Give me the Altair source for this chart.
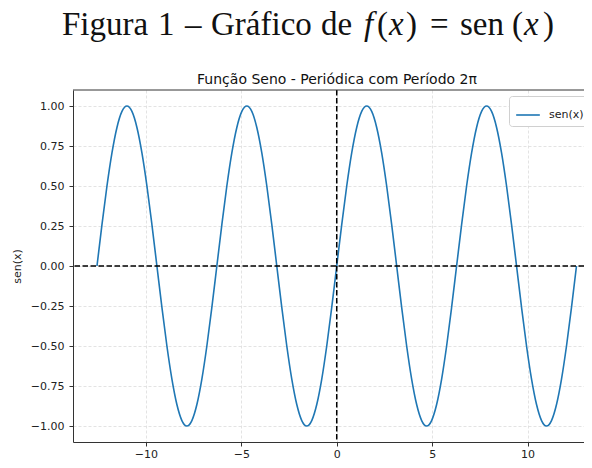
import altair as alt
import pandas as pd

# ---- data ----
x_vals = [
    -12.566, -12.305, -12.043, -11.781, -11.519, -11.257, -10.996, -10.734,
    -10.472, -10.210, -9.948, -9.687, -9.425, -9.163, -8.901, -8.639,
    -8.378, -8.116, -7.854, -7.592, -7.330, -7.069, -6.807, -6.545,
    -6.283, -6.021, -5.760, -5.498, -5.236, -4.974, -4.712, -4.451,
    -4.189, -3.927, -3.665, -3.403, -3.142, -2.880, -2.618, -2.356,
    -2.094, -1.833, -1.571, -1.309, -1.047, -0.785, -0.524, -0.262,
    0.0,
    0.262, 0.524, 0.785, 1.047, 1.309, 1.571, 1.833, 2.094,
    2.356, 2.618, 2.880, 3.142, 3.403, 3.665, 3.927, 4.189,
    4.451, 4.712, 4.974, 5.236, 5.498, 5.760, 6.021, 6.283,
    6.545, 6.807, 7.069, 7.330, 7.592, 7.854, 8.116, 8.378,
    8.639, 8.901, 9.163, 9.425, 9.687, 9.948, 10.210, 10.472,
    10.734, 10.996, 11.257, 11.519, 11.781, 12.043, 12.305, 12.566,
]
sen_vals = [
    0.0, 0.259, 0.5, 0.707, 0.866, 0.966, 1.0, 0.966, 0.866, 0.707, 0.5, 0.259,
    0.0, -0.259, -0.5, -0.707, -0.866, -0.966, -1.0, -0.966, -0.866, -0.707, -0.5, -0.259,
    0.0, 0.259, 0.5, 0.707, 0.866, 0.966, 1.0, 0.966, 0.866, 0.707, 0.5, 0.259,
    0.0, -0.259, -0.5, -0.707, -0.866, -0.966, -1.0, -0.966, -0.866, -0.707, -0.5, -0.259,
    0.0, 0.259, 0.5, 0.707, 0.866, 0.966, 1.0, 0.966, 0.866, 0.707, 0.5, 0.259,
    0.0, -0.259, -0.5, -0.707, -0.866, -0.966, -1.0, -0.966, -0.866, -0.707, -0.5, -0.259,
    0.0, 0.259, 0.5, 0.707, 0.866, 0.966, 1.0, 0.966, 0.866, 0.707, 0.5, 0.259,
    0.0, -0.259, -0.5, -0.707, -0.866, -0.966, -1.0, -0.966, -0.866, -0.707, -0.5, -0.259,
    0.0,
]
x_ticks = [-10, -5, 0, 5, 10]
y_ticks = [-1.0, -0.75, -0.5, -0.25, 0.0, 0.25, 0.5, 0.75, 1.0]
x_domain = [-13.823, 12.96]
y_domain = [-1.1, 1.1]
serie_nome = "sen(x)"
titulo_grafico = "Função Seno - Periódica com Período 2π"
titulo_textos = ["Figura", "1", "–", "Gráfico", "de", "f", "(", "x", ")", "=", "sen", "(", "x", ")"]
titulo_italico = [False, False, False, False, False, True, False, True, False, False, False, False, True, False]

# ---- layout of the figure caption pieces (page x of each piece, minus plot left 73) ----
titulo_px = [p - 73 for p in [62, 158, 185, 211, 321, 364, 377, 389, 406, 430, 460, 512, 524, 543]]

df = pd.DataFrame({"x": x_vals, "y": sen_vals, "serie": serie_nome})
one = pd.DataFrame({"v": [0]})
cap = pd.DataFrame({"t": titulo_textos, "px": titulo_px, "it": titulo_italico})

x_scale = alt.Scale(domain=x_domain, nice=False, zero=False)
y_scale = alt.Scale(domain=y_domain, nice=False, zero=False)

line = alt.Chart(df).mark_line(strokeWidth=1.6, interpolate="monotone", clip=True).encode(
    x=alt.X("x:Q", scale=x_scale,
            axis=alt.Axis(values=x_ticks, format="d", title="x", grid=True, labelPadding=2)),
    y=alt.Y("y:Q", scale=y_scale,
            axis=alt.Axis(values=y_ticks, format=".2f", title="sen(x)", grid=True,
                          labelPadding=5,
                          titleX=-56, titleY=176, titleAlign="center",
                          titleBaseline="middle", titleAngle=-90)),
    color=alt.Color("serie:N", scale=alt.Scale(range=["#1f77b4"]),
                    legend=alt.Legend(orient="none", legendX=436, legendY=6, title=None,
                                      symbolType="stroke", symbolStrokeWidth=1.6,
                                      symbolSize=560, labelFont="DejaVu Sans",
                                      labelFontSize=11, labelColor="#222",
                                      padding=6, strokeColor="#d0d0d0",
                                      fillColor="white", cornerRadius=3, labelOffset=8)),
)

hline = alt.Chart(one).mark_rule(color="black", strokeWidth=1.5, strokeDash=[5.5, 2.5]).encode(
    y=alt.datum(0))
vline = alt.Chart(one).mark_rule(color="black", strokeWidth=1.5, strokeDash=[5.5, 2.5]).encode(
    x=alt.datum(0))
top_border = alt.Chart(one).mark_rule(color="#333333", strokeWidth=1).encode(y=alt.value(0))

plot_title = alt.Chart(one).mark_text(
    text=titulo_grafico, font="DejaVu Sans", fontSize=14, color="#111",
    align="center", baseline="alphabetic").encode(x=alt.value(264), y=alt.value(-6))

cap_normal = alt.Chart(cap).transform_filter("!datum.it").mark_text(
    font="Liberation Serif", fontSize=33, color="#111", align="left",
    baseline="alphabetic").encode(
    x=alt.X("px:Q", scale=None), y=alt.value(-55), text="t:N")
cap_italic = alt.Chart(cap).transform_filter("datum.it").mark_text(
    font="Liberation Serif", fontSize=33, fontStyle="italic", color="#111", align="left",
    baseline="alphabetic").encode(
    x=alt.X("px:Q", scale=None), y=alt.value(-55), text="t:N")

chart = alt.layer(line, hline, vline, top_border, plot_title, cap_normal, cap_italic).properties(
    width=511, height=352,
    padding={"left": 65, "top": 82, "right": 0, "bottom": 18},
    autosize=alt.AutoSizeParams(type="none"),
    background="white",
).configure_axis(
    labelFont="DejaVu Sans", labelFontSize=11, labelColor="#222",
    titleFont="DejaVu Sans", titleFontSize=11, titleFontWeight="normal", titleColor="#222",
    domainColor="#333333", domainWidth=1, tickColor="#333333", tickSize=4, tickWidth=1,
    gridColor="#dcdcdc", gridDash=[3, 2], gridWidth=0.8,
).configure_view(stroke=None)

chart.save("out.html", embed_options={"renderer": "svg", "actions": False})
